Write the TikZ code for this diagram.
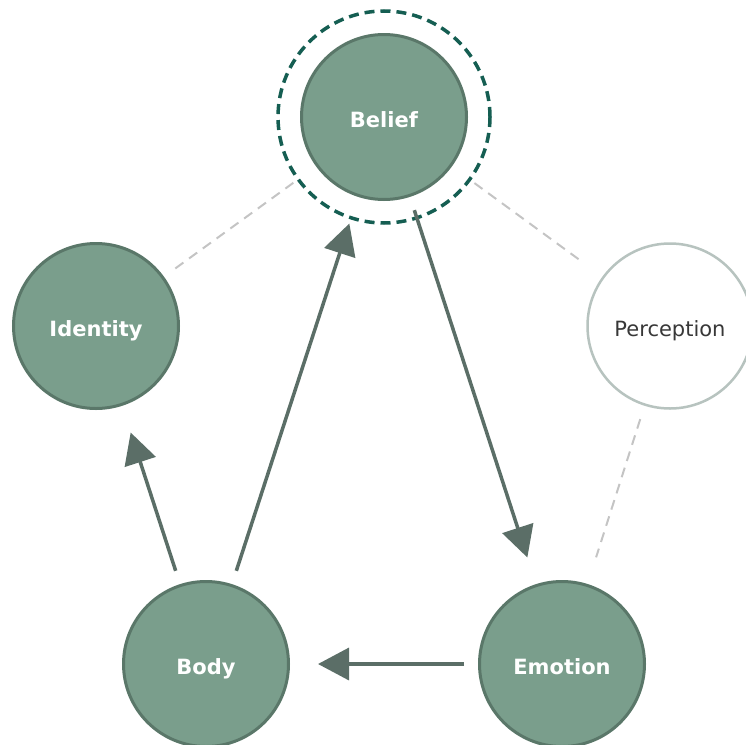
\documentclass[tikz,border=0pt]{standalone}
\usepackage{fontspec}
\setmainfont{DejaVu Sans}
\usetikzlibrary{arrows.meta}
\definecolor{corefill}{HTML}{7A9E8C}
\definecolor{coreline}{HTML}{5A7769}
\definecolor{arrowcol}{HTML}{5B6E67}
\definecolor{ringcol}{HTML}{155E52}
\definecolor{faintline}{HTML}{B7C3BF}
\definecolor{linkgray}{HTML}{C4C4C4}
\begin{document}
\begin{tikzpicture}[x=1pt,y=-1pt]
 \tikzstyle{corebox}=[circle,draw=coreline,fill=corefill,line width=3pt,
   minimum size=165pt,inner sep=0pt,text=white,text height=21.4pt,
   text depth=0pt,font=\fontsize{21}{25}\selectfont\bfseries]
 \tikzstyle{sidebox}=[circle,draw=faintline,fill=white,line width=2.5pt,
   minimum size=165pt,inner sep=0pt,text=black!78,text height=21.4pt,
   text depth=0pt,font=\fontsize{21}{25}\selectfont]
 \tikzstyle{flow}=[draw=arrowcol,line width=3.5pt,
   -{Triangle[length=31pt,width=32pt]},shorten <=14pt,shorten >=28pt]
 \tikzstyle{faint}=[draw=linkgray,line width=2pt,dash pattern=on 10pt off 7pt,
   shorten <=14pt,shorten >=28pt]
 \useasboundingbox (0,0) rectangle (746,744);
 \node (belief) [corebox] at (384,117) {Belief};
 \node (ident) [corebox] at (96,326) {Identity};
 \node (percep) [sidebox] at (670,326) {Perception};
 \node (body) [corebox] at (206,664) {Body};
 \node (emo) [corebox] at (562,664) {Emotion};
 \draw[draw=ringcol,line width=3.5pt,dash pattern=on 10pt off 6pt]
   (belief.center) circle (106);
 \draw[faint] (ident) -- (belief);
 \draw[faint,shorten <=28pt,shorten >=25pt] (belief) -- (percep);
 \draw[faint] (percep) -- (emo);
 \draw[flow] (belief) -- (emo);
 \draw[flow] (emo) -- (body);
 \draw[flow] (body) -- (belief);
 \draw[flow] (body) -- (ident);
\end{tikzpicture}
\end{document}
